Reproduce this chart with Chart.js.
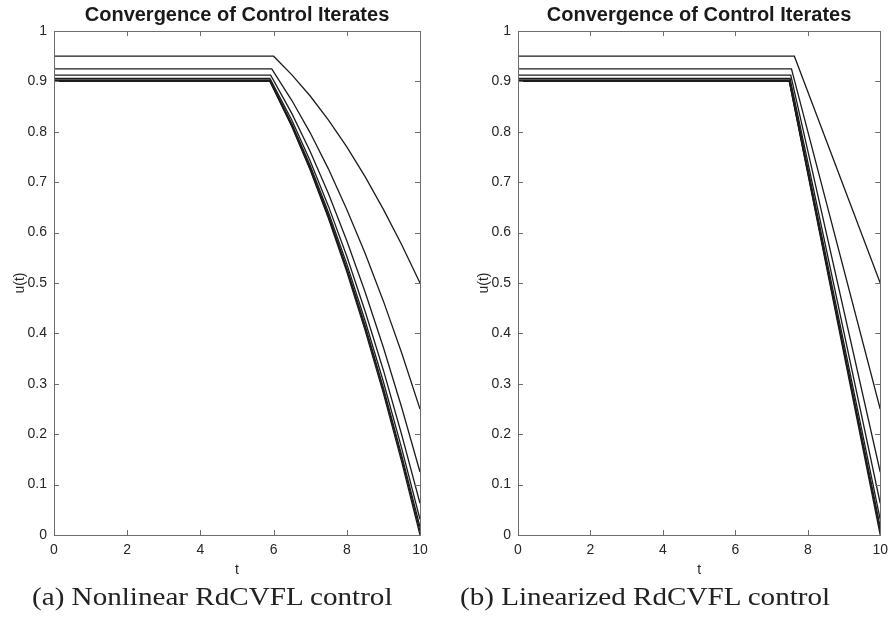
<!DOCTYPE html>
<html>
<head>
<meta charset="utf-8">
<script src="https://cdn.jsdelivr.net/npm/chart.js@4/dist/chart.umd.min.js"></script>
<style>
  body { margin: 0; background: #fff; width: 895px; height: 628px; position: relative; overflow: hidden; }
  canvas { position: absolute; top: 0; }
  #chartA { left: 0; }
  #chartB { left: 464px; }
  .caption {
    position: absolute; top: 583px; font-family: "Liberation Serif", serif;
    font-size: 25px; color: #222; white-space: nowrap;
    transform: scaleX(1.165); transform-origin: 0 0;
  }
</style>
</head>
<body>
<canvas id="chartA" width="440" height="585"></canvas>
<canvas id="chartB" width="431" height="585"></canvas>
<div class="caption" id="capA" style="left:32px;">(a) Nonlinear RdCVFL control</div>
<div class="caption" id="capB" style="left:460px;">(b) Linearized RdCVFL control</div>
<script>
// Values
var chartTitle = "Convergence of Control Iterates";
var xTicks = [0, 2, 4, 6, 8, 10];
var yTicks = [0, 0.1, 0.2, 0.3, 0.4, 0.5, 0.6, 0.7, 0.8, 0.9, 1];
var yTickLabels = ["0", "0.1", "0.2", "0.3", "0.4", "0.5", "0.6", "0.7", "0.8", "0.9", "1"];

// plateau level of each iterate (t from 0 to the knee)
var plateau = [0.95, 0.925, 0.9125, 0.906, 0.903, 0.9015, 0.9008, 0.9];

// (a) nonlinear: knee time and the curved tail
var nlKnee = [6.0, 5.95, 5.92, 5.9, 5.9, 5.9, 5.9, 5.9];
var tTail = [6.5, 7, 7.5, 8, 8.5, 9, 9.5, 10];
var nlTail = [
  [0.913, 0.871, 0.823, 0.770, 0.711, 0.646, 0.576, 0.5],
  [0.862, 0.798, 0.726, 0.646, 0.559, 0.464, 0.361, 0.25],
  [0.836, 0.761, 0.677, 0.584, 0.482, 0.372, 0.253, 0.125],
  [0.823, 0.742, 0.652, 0.553, 0.444, 0.327, 0.199, 0.063],
  [0.816, 0.733, 0.640, 0.538, 0.425, 0.304, 0.172, 0.031],
  [0.813, 0.729, 0.634, 0.530, 0.416, 0.292, 0.158, 0.016],
  [0.812, 0.726, 0.631, 0.526, 0.411, 0.287, 0.152, 0.008],
  [0.810, 0.724, 0.628, 0.522, 0.406, 0.281, 0.145, 0]
];

// (b) linearized: knee time and value at t = 10
var linKnee = [7.63, 7.55, 7.53, 7.51, 7.5, 7.49, 7.49, 7.49];
var linEnd = [0.5, 0.25, 0.125, 0.063, 0.031, 0.016, 0.008, 0];

var lineColor = "#1c1c1c";
var textColor = "#262626";

function nonlinearSets() {
  return plateau.map(function (p, i) {
    var pts = [{ x: 0, y: p }, { x: nlKnee[i], y: p }];
    tTail.forEach(function (t, j) {
      pts.push({ x: t, y: nlTail[i][j] });
    });
    return { data: pts, borderColor: lineColor, borderWidth: 1.3, pointRadius: 0, fill: false };
  });
}

function linearSets() {
  return plateau.map(function (p, i) {
    var pts = [{ x: 0, y: p }, { x: linKnee[i], y: p }, { x: 10, y: linEnd[i] }];
    return { data: pts, borderColor: lineColor, borderWidth: 1.3, pointRadius: 0, fill: false };
  });
}

// MATLAB-style box with inward ticks on all four sides
var boxTicks = {
  id: "boxTicks",
  afterDatasetsDraw: function (chart) {
    var ctx = chart.ctx;
    var a = chart.chartArea;
    var xs = chart.scales.x, ys = chart.scales.y;
    var len = 5;
    ctx.save();
    ctx.strokeStyle = "#6e6e6e";
    ctx.lineWidth = 1;
    ctx.beginPath();
    xTicks.forEach(function (v) {
      var px = Math.round(xs.getPixelForValue(v)) + 0.5;
      ctx.moveTo(px, a.bottom); ctx.lineTo(px, a.bottom - len);
      ctx.moveTo(px, a.top); ctx.lineTo(px, a.top + len);
    });
    yTicks.forEach(function (v) {
      var py = Math.round(ys.getPixelForValue(v)) + 0.5;
      ctx.moveTo(a.left, py); ctx.lineTo(a.left + len, py);
      ctx.moveTo(a.right, py); ctx.lineTo(a.right - len, py);
    });
    ctx.stroke();
    ctx.strokeRect(Math.round(a.left) + 0.5, Math.round(a.top) + 0.5,
      Math.round(a.right - a.left), Math.round(a.bottom - a.top));
    ctx.restore();
  }
};

function makeChart(id, datasets, padRight) {
  var ctx = document.getElementById(id).getContext("2d");
  return new Chart(ctx, {
    type: "line",
    data: { datasets: datasets },
    options: {
      responsive: false,
      animation: false,
      devicePixelRatio: 1,
      layout: { padding: { left: 0, right: padRight, top: 0, bottom: 0 } },
      plugins: {
        legend: { display: false },
        tooltip: { enabled: false },
        title: {
          display: true,
          text: chartTitle,
          fullSize: false,
          color: "#1a1a1a",
          font: { family: "'Liberation Sans', Arial, sans-serif", size: 20, weight: "bold", lineHeight: 1.2 },
          padding: { top: 3, bottom: 4 }
        }
      },
      scales: {
        x: {
          type: "linear",
          min: 0,
          max: 10,
          afterFit: function (scale) { scale.height = 50; },
          grid: { display: false, drawTicks: false },
          border: { display: false },
          ticks: {
            stepSize: 2,
            padding: 7,
            color: textColor,
            maxRotation: 0,
            font: { family: "'Liberation Sans', Arial, sans-serif", size: 14 }
          },
          title: {
            display: true,
            text: "t",
            color: textColor,
            font: { family: "'Liberation Sans', Arial, sans-serif", size: 14 },
            padding: { top: 0, bottom: 6 }
          }
        },
        y: {
          type: "linear",
          min: 0,
          max: 1,
          afterFit: function (scale) { scale.width = 54; },
          grid: { display: false, drawTicks: false },
          border: { display: false },
          ticks: {
            stepSize: 0.1,
            padding: 7,
            color: textColor,
            font: { family: "'Liberation Sans', Arial, sans-serif", size: 14 },
            callback: function (value) {
              var i = yTicks.findIndex(function (v) { return Math.abs(v - value) < 1e-6; });
              return i >= 0 ? yTickLabels[i] : "";
            }
          },
          title: {
            display: true,
            text: "u(t)",
            color: textColor,
            font: { family: "'Liberation Sans', Arial, sans-serif", size: 14 },
            padding: { top: 12, bottom: 0 }
          }
        }
      }
    },
    plugins: [boxTicks]
  });
}

makeChart("chartA", nonlinearSets(), 20);
makeChart("chartB", linearSets(), 12);
</script>
</body>
</html>
